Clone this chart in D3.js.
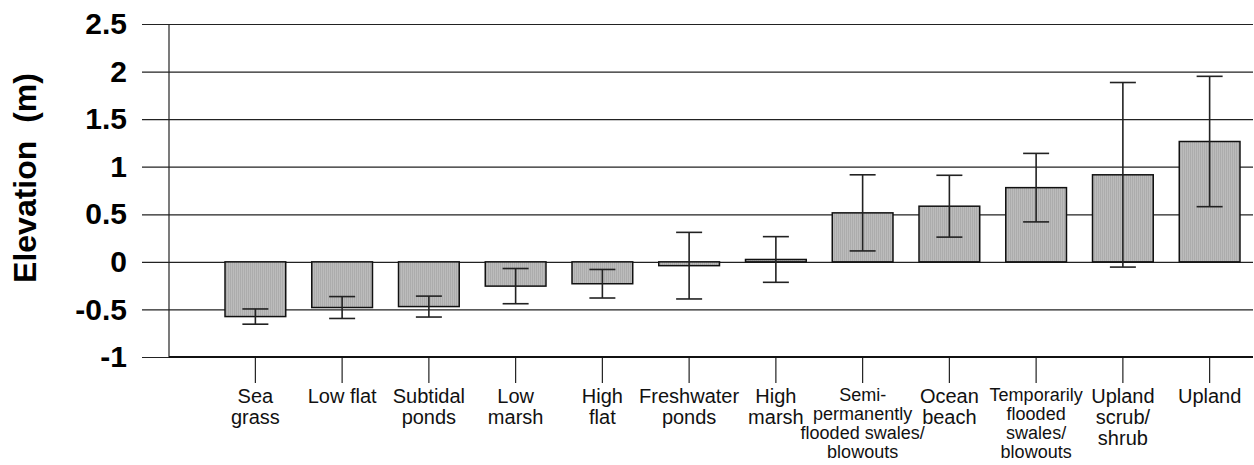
<!DOCTYPE html>
<html>
<head>
<meta charset="utf-8">
<script src="https://cdn.jsdelivr.net/npm/d3@7"></script>
<style>
  body { margin: 0; background: #fff; }
  svg { display: block; font-family: Arial, "Liberation Sans", sans-serif; }
</style>
</head>
<body>
<div class="chart"></div>
<script>
	'use strict';

	// habitat categories, with the line breaks used in the axis labels
	var categories = ['Sea grass', 'Low flat', 'Subtidal ponds', 'Low marsh', 'High flat',
		'Freshwater ponds', 'High marsh', 'Semi-permanently flooded swales/blowouts',
		'Ocean beach', 'Temporarily flooded swales/blowouts', 'Upland scrub/shrub', 'Upland'];
	var labelLines = [['Sea', 'grass'], ['Low flat'], ['Subtidal', 'ponds'], ['Low', 'marsh'],
		['High', 'flat'], ['Freshwater', 'ponds'], ['High', 'marsh'],
		['Semi-', 'permanently', 'flooded swales/', 'blowouts'], ['Ocean', 'beach'],
		['Temporarily', 'flooded', 'swales/', 'blowouts'], ['Upland', 'scrub/', 'shrub'], ['Upland']];

	// mean elevation (m) and error bar half-width
	var means = [-0.575, -0.48, -0.47, -0.255, -0.23, -0.04, 0.025, 0.515, 0.585, 0.78, 0.915, 1.265];
	var errors = [0.08, 0.115, 0.11, 0.185, 0.15, 0.35, 0.24, 0.40, 0.325, 0.36, 0.97, 0.685];

	var yTicks = [-1, -0.5, 0, 0.5, 1, 1.5, 2, 2.5];

	var width = 1254, height = 465;
	var plot = { left: 169, right: 1253, top: 24, bottom: 357 };

	var svg = d3.select('.chart').append('svg')
		.attr('width', width)
		.attr('height', height);

	var defs = svg.append('defs');
	var pattern = defs.append('pattern')
		.attr('id', 'stripes')
		.attr('patternUnits', 'userSpaceOnUse')
		.attr('width', 2)
		.attr('height', 2);
	pattern.append('rect').attr('width', 2).attr('height', 2).attr('fill', '#bcbcbc');
	pattern.append('rect').attr('width', 1).attr('height', 2).attr('fill', '#acacac');

	var x = d3.scaleBand().domain(categories).range([212, 1253]).padding(0);
	var y = d3.scaleLinear().domain([-1, 2.5]).range([plot.bottom, plot.top]);

	var data = categories.map(function(c, i) {
		return { cat: c, lines: labelLines[i], mean: means[i], err: errors[i] };
	});

	// gridlines and y tick labels
	var yAxis = d3.axisLeft(y)
		.tickValues(yTicks)
		.tickSize(-(plot.right - 142))
		.tickPadding(15)
		.tickFormat(function(d) { return String(d); });

	var yg = svg.append('g')
		.attr('transform', 'translate(142,0)')
		.call(yAxis);
	yg.select('.domain').remove();
	yg.selectAll('.tick line').attr('stroke', '#222').attr('stroke-width', 1.2);
	yg.selectAll('.tick text')
		.attr('fill', '#000')
		.style('font-size', '30px')
		.style('font-weight', 'bold')
		.attr('font-family', null);

	// y axis line
	svg.append('line')
		.attr('x1', plot.left).attr('x2', plot.left)
		.attr('y1', plot.top).attr('y2', plot.bottom)
		.attr('stroke', '#222').attr('stroke-width', 1.2);

	// bars
	var barW = x.bandwidth() * 0.7;
	var cx = function(d) { return x(d.cat) + x.bandwidth() / 2; };

	svg.append('g').selectAll('rect')
		.data(data)
		.enter().append('rect')
		.attr('x', function(d) { return cx(d) - barW / 2; })
		.attr('y', function(d) { return y(Math.max(0, d.mean)); })
		.attr('width', barW)
		.attr('height', function(d) { return Math.abs(y(d.mean) - y(0)); })
		.attr('fill', 'url(#stripes)')
		.attr('stroke', '#111')
		.attr('stroke-width', 1.5);

	// error bars
	var capW = 13;
	var eb = svg.append('g').selectAll('g')
		.data(data)
		.enter().append('g')
		.attr('stroke', '#222')
		.attr('stroke-width', 1.6);
	eb.append('line')
		.attr('x1', cx).attr('x2', cx)
		.attr('y1', function(d) { return y(d.mean + d.err); })
		.attr('y2', function(d) { return y(d.mean - d.err); });
	eb.append('line')
		.attr('x1', function(d) { return cx(d) - capW; })
		.attr('x2', function(d) { return cx(d) + capW; })
		.attr('y1', function(d) { return y(d.mean + d.err); })
		.attr('y2', function(d) { return y(d.mean + d.err); });
	eb.append('line')
		.attr('x1', function(d) { return cx(d) - capW; })
		.attr('x2', function(d) { return cx(d) + capW; })
		.attr('y1', function(d) { return y(d.mean - d.err); })
		.attr('y2', function(d) { return y(d.mean - d.err); });

	// x axis: ticks at category centres, multi-line labels
	var xAxis = d3.axisBottom(x).tickSize(26).tickFormat('');
	var xg = svg.append('g')
		.attr('transform', 'translate(0,' + plot.bottom + ')')
		.call(xAxis);
	xg.select('.domain').remove();
	xg.selectAll('.tick line').attr('stroke', '#222').attr('stroke-width', 1.2);

	svg.append('line')
		.attr('x1', plot.left).attr('x2', plot.right)
		.attr('y1', plot.bottom).attr('y2', plot.bottom)
		.attr('stroke', '#111').attr('stroke-width', 1.8);

	var labels = svg.append('g').selectAll('text')
		.data(data)
		.enter().append('text')
		.attr('text-anchor', 'middle')
		.attr('fill', '#111')
		.style('font-size', function(d) { return d.lines.length > 3 ? '18px' : '20px'; })
		.attr('transform', function(d) {
			return 'translate(' + cx(d) + ',' + (d.lines.length > 3 ? 401 : 403) + ')';
		});
	labels.selectAll('tspan')
		.data(function(d) {
			var lh = d.lines.length > 3 ? 19 : 21;
			return d.lines.map(function(l, i) { return { text: l, dy: i * lh }; });
		})
		.enter().append('tspan')
		.attr('x', 0)
		.attr('y', function(d) { return d.dy; })
		.text(function(d) { return d.text; });

	// y axis title
	svg.append('text')
		.attr('transform', 'translate(36,178) rotate(-90)')
		.attr('text-anchor', 'middle')
		.style('font-size', '32px')
		.style('font-weight', 'bold')
		.attr('fill', '#000')
		.attr('xml:space', 'preserve')
		.text('Elevation  (m)');
</script>
</body>
</html>
